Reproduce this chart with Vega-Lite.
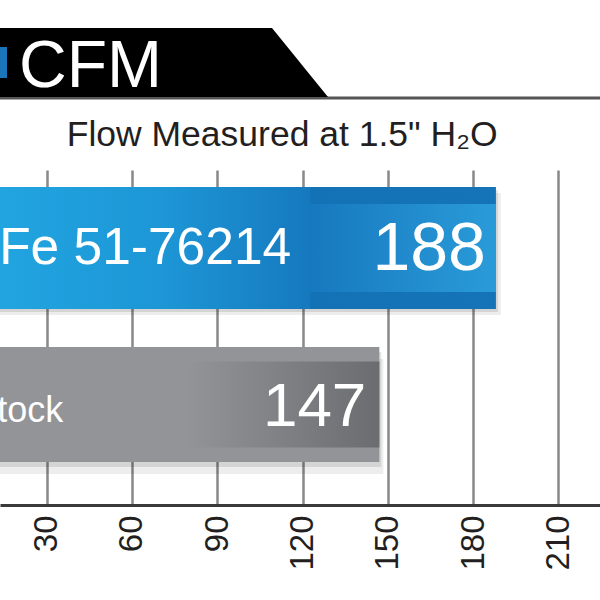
{
  "$schema": "https://vega.github.io/schema/vega-lite/v6.json",
  "width": 600,
  "height": 335,
  "autosize": {"type": "none"},
  "padding": {"top": 170, "left": 0, "right": 0, "bottom": 95},
  "background": "white",
  "config": {
    "view": {"stroke": null},
    "font": "Liberation Sans",
    "axis": {
      "labelFont": "Liberation Sans",
      "labelFontSize": 33,
      "labelColor": "#231f20",
      "labelAngle": 270,
      "labelPadding": 10,
      "labelOverlap": false,
      "labelFlush": false,
      "ticks": false,
      "domainColor": "#3a3a3a",
      "domainWidth": 3,
      "grid": true,
      "gridColor": "#888888",
      "gridWidth": 2.5,
      "title": null
    }
  },
  "datasets": {
    "flow": [
      {"product": "aFe 51-76214", "cfm": 188},
      {"product": "Stock", "cfm": 147}
    ],
    "header": [{"unit": "CFM", "subtitle": "Flow Measured at 1.5\" H₂O"}]
  },
  "resolve": {"scale": {"y": "independent"}},
  "layer": [
    {
      "data": {"name": "header"},
      "encoding": {
        "x": {"datum": 13.58, "type": "quantitative", "scale": {"domain": [13.58, 224.6], "nice": false, "zero": false}},
        "y": {"datum": -72, "type": "quantitative", "scale": {"domain": [0, 335], "reverse": true, "nice": false, "zero": false}, "axis": null}
      },
      "layer": [
        {"mark": {"type": "point", "shape": "M -2 -1.5 L 602 -1.5 L 602 1.5 L -2 1.5 Z", "size": 4, "filled": true, "opacity": 1, "color": "#555555", "strokeWidth": 0}},
        {"mark": {"type": "point", "shape": "M -2 -1 L 328 -1 L 272 -70 L -2 -70 Z", "size": 4, "filled": true, "opacity": 1, "color": "#000000", "strokeWidth": 0}},
        {"mark": {"type": "point", "shape": "M -2 -51 L 7 -51 L 7 -20 L -2 -20 Z", "size": 4, "filled": true, "opacity": 1, "color": "#1b75bb", "strokeWidth": 0}},
        {
          "mark": {"type": "text", "font": "Liberation Sans", "fontSize": 66, "color": "#ffffff", "align": "left", "baseline": "alphabetic"},
          "encoding": {
            "x": {"datum": 20.26, "type": "quantitative"},
            "y": {"datum": -83, "type": "quantitative"},
            "text": {"field": "unit"}
          }
        },
        {
          "mark": {"type": "text", "font": "Liberation Sans", "fontSize": 35.5, "color": "#231f20", "align": "center", "baseline": "alphabetic"},
          "encoding": {
            "x": {"datum": 112.8, "type": "quantitative"},
            "y": {"datum": -24, "type": "quantitative"},
            "text": {"field": "subtitle"}
          }
        }
      ]
    },
    {
      "data": {"name": "flow"},
      "encoding": {
        "y": {"field": "product", "type": "nominal", "sort": null, "scale": {"domain": ["aFe 51-76214", "Stock"], "paddingInner": 0.24, "paddingOuter": 0.19, "align": 0.311}, "axis": null},
        "x": {"field": "cfm", "type": "quantitative", "scale": {"domain": [13.58, 224.6], "nice": false, "zero": false}, "axis": {"values": [30, 60, 90, 120, 150, 180, 210]}}
      },
      "layer": [
        {"transform": [{"filter": "datum.product === 'aFe 51-76214'"}], "mark": {"type": "bar", "size": 122, "color": "#000000", "opacity": 0.1, "xOffset": 2, "yOffset": 3}},
        {"transform": [{"filter": "datum.product === 'aFe 51-76214'"}], "mark": {"type": "bar", "size": 122, "color": "#000000", "opacity": 0.07, "xOffset": 5, "yOffset": 6}},
        {"transform": [{"filter": "datum.product === 'Stock'"}], "mark": {"type": "bar", "size": 115, "color": "#000000", "opacity": 0.1, "xOffset": 2, "yOffset": 5}},
        {"transform": [{"filter": "datum.product === 'Stock'"}], "mark": {"type": "bar", "size": 115, "color": "#000000", "opacity": 0.07, "xOffset": 4, "yOffset": 12}},
        {
          "transform": [{"filter": "datum.product === 'aFe 51-76214'"}],
          "mark": {"type": "bar", "size": 122, "color": {"gradient": "linear", "x1": 0, "y1": 0, "x2": 1, "y2": 0, "stops": [
            {"offset": 0, "color": "#22a8e3"},
            {"offset": 0.38, "color": "#1d96d6"},
            {"offset": 0.65, "color": "#1679bf"},
            {"offset": 0.655, "color": "#1371b6"},
            {"offset": 1, "color": "#1574b8"}
          ]}}
        },
        {
          "transform": [{"filter": "datum.product === 'aFe 51-76214'"}],
          "mark": {"type": "bar", "size": 88, "color": {"gradient": "linear", "x1": 0, "y1": 0, "x2": 1, "y2": 0, "stops": [
            {"offset": 0, "color": "rgba(23,122,192,0)"},
            {"offset": 0.65, "color": "rgba(23,122,192,0)"},
            {"offset": 0.655, "color": "#1779bf"},
            {"offset": 1, "color": "#2a9bd9"}
          ]}}
        },
        {
          "transform": [{"filter": "datum.product === 'Stock'"}],
          "mark": {"type": "bar", "size": 115, "color": "#929497"}
        },
        {
          "transform": [{"filter": "datum.product === 'Stock'"}],
          "mark": {"type": "bar", "size": 86, "color": {"gradient": "linear", "x1": 0, "y1": 0, "x2": 1, "y2": 0, "stops": [
            {"offset": 0, "color": "rgba(108,109,112,0)"},
            {"offset": 0.54, "color": "rgba(108,109,112,0)"},
            {"offset": 1, "color": "#6b6c6f"}
          ]}}
        },
        {
          "transform": [{"filter": "datum.product === 'aFe 51-76214'"}],
          "mark": {"type": "text", "font": "Liberation Sans", "fontSize": 51.5, "color": "#ffffff", "align": "left", "baseline": "middle", "dy": 1},
          "encoding": {"x": {"datum": 3.2}, "text": {"field": "product"}}
        },
        {
          "transform": [{"filter": "datum.product === 'Stock'"}],
          "mark": {"type": "text", "font": "Liberation Sans", "fontSize": 36, "color": "#ffffff", "align": "left", "baseline": "middle", "dy": 6},
          "encoding": {"x": {"datum": 4.2}, "text": {"field": "product"}}
        },
        {
          "transform": [{"filter": "datum.product === 'aFe 51-76214'"}],
          "mark": {"type": "text", "font": "Liberation Sans", "fontSize": 68, "color": "#ffffff", "align": "right", "baseline": "middle", "dx": -10, "dy": 2},
          "encoding": {"text": {"field": "cfm"}}
        },
        {
          "transform": [{"filter": "datum.product === 'Stock'"}],
          "mark": {"type": "text", "font": "Liberation Sans", "fontSize": 62, "color": "#ffffff", "align": "right", "baseline": "middle", "dx": -13, "dy": 2},
          "encoding": {"text": {"field": "cfm"}}
        }
      ]
    }
  ]
}
